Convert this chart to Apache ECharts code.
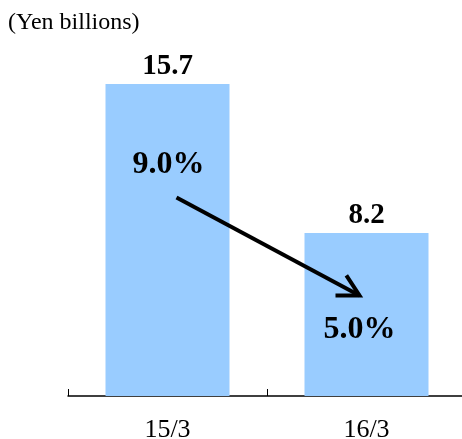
<!DOCTYPE html>
<html>
<head>
<meta charset="utf-8">
<script src="https://cdn.jsdelivr.net/npm/echarts@6/dist/echarts.min.js"></script>
<style>
  html, body { margin: 0; padding: 0; background: #fff; }
  #chart { width: 462px; height: 439px; }
</style>
</head>
<body>
<div id="chart"></div>
<script>
// Fiscal years and figures
const categories = ['15/3', '16/3'];
const income = [15.7, 8.2];          // Yen billions
const margins = [9.0, 5.0];          // percent

const serif = '"Liberation Serif", "Times New Roman", serif';

// Vertical level (in axis units) where each margin label sits
const marginLevel = [11.65, 3.35];

const chart = echarts.init(document.getElementById('chart'), null, { renderer: 'canvas' });

function renderMargins(params, api) {
  const idx = api.value(0);
  const c = api.coord([idx, marginLevel[idx]]);
  const xShift = idx === 1 ? -7 : 1;
  const children = [{
    type: 'text',
    x: c[0] + xShift,
    y: c[1],
    style: {
      text: api.value(1).toFixed(1) + '%',
      font: 'bold 32px ' + serif,
      fill: '#000',
      align: 'center',
      verticalAlign: 'middle'
    }
  }];
  if (idx === 0) {
    // Arrow from the first margin label toward the second
    const a = api.coord([0, marginLevel[0]]);
    const b = api.coord([1, marginLevel[1]]);
    const x0 = a[0] + 9, y0 = a[1] + 33;
    const x1 = b[0] - 7, y1 = b[1] - 34;
    const ang = Math.atan2(y1 - y0, x1 - x0);
    const len = 24, spread = Math.PI / 6.3;
    const h1 = [x1 - len * Math.cos(ang - spread), y1 - len * Math.sin(ang - spread)];
    const h2 = [x1 - len * Math.cos(ang + spread), y1 - len * Math.sin(ang + spread)];
    children.push({
      type: 'line',
      shape: { x1: x0, y1: y0, x2: x1, y2: y1 },
      style: { stroke: '#000', lineWidth: 4 }
    });
    children.push({
      type: 'polyline',
      shape: { points: [h1, [x1, y1], h2] },
      style: { stroke: '#000', lineWidth: 4, fill: null, lineJoin: 'miter' }
    });
  }
  return { type: 'group', children: children };
}

chart.setOption({
  animation: false,
  backgroundColor: '#fff',
  graphic: [{
    type: 'text',
    left: 8,
    top: 11,
    style: {
      text: '(Yen billions)',
      font: '24px ' + serif,
      fill: '#000'
    }
  }],
  grid: { left: 68, right: -4, top: 38.3, bottom: 43, outerBoundsMode: 'none', containLabel: false },
  xAxis: {
    type: 'category',
    data: categories,
    axisLine: { lineStyle: { color: '#000', width: 1.5 } },
    axisTick: { show: true, inside: true, length: 7, lineStyle: { color: '#000', width: 1 } },
    axisLabel: { color: '#000', fontFamily: serif, fontSize: 26, margin: 21 }
  },
  yAxis: {
    type: 'value',
    min: 0,
    max: 18,
    show: false,
    splitLine: { show: false }
  },
  series: [{
    type: 'bar',
    data: income,
    barWidth: 124,
    itemStyle: { color: '#99CCFF' },
    label: {
      show: true,
      position: 'top',
      distance: 3,
      color: '#000',
      fontFamily: serif,
      fontWeight: 'bold',
      fontSize: 29,
      formatter: p => p.value.toFixed(1)
    },
    z: 1
  }, {
    type: 'custom',
    data: margins.map((m, i) => [i, m]),
    renderItem: renderMargins,
    z: 5
  }]
});
</script>
</body>
</html>
